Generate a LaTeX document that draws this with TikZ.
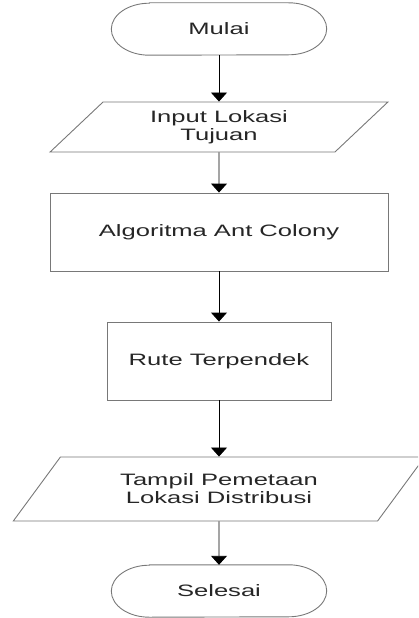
\documentclass[tikz,border=0pt]{standalone}
\usepackage{fontspec}
\setmainfont{Liberation Sans}[FakeStretch=1.55]
\usepackage{tikz}
\usetikzlibrary{arrows.meta,shapes.geometric}
\definecolor{edgegray}{RGB}{120,120,120}

\begin{document}
\begin{tikzpicture}[x=1pt, y=-1pt, font=\fontsize{16.5}{18}\selectfont,
  box node/.style={rectangle, draw=edgegray, line width=0.9pt, align=center, text=black!85},
  io node/.style={trapezium, trapezium left angle=50.5, trapezium right angle=129.5, trapezium stretches=true, draw=edgegray, line width=0.9pt, align=center, text=black!85},
  end node/.style={rectangle, minimum width=215pt, minimum height=52pt, align=center, text=black!85},
  end line/.style={draw=edgegray, line width=0.9pt},
  arrow/.style={-{Triangle[width=16pt,length=9pt]}, line width=0.9pt, black}]
\useasboundingbox (0,0) rectangle (418,618);
\clip (0,0) rectangle (418,618);
\node[end node] (mulai) at (219,29) {Mulai};
\node[io node, minimum width=338pt, minimum height=50pt] (input) at (219,127) {Input Lokasi\\Tujuan};
\node[box node, minimum width=338pt, minimum height=78pt] (algo) at (219,232) {Algoritma Ant Colony};
\node[box node, minimum width=224pt, minimum height=78pt] (rute) at (219,361) {Rute Terpendek};
\node[io node, minimum width=412pt, minimum height=64pt] (tampil) at (219,489) {Tampil Pemetaan\\Lokasi Distribusi};
\node[end node] (selesai) at (219,591) {Selesai};
% rounded ends of the terminators
\draw[end line] ([xshift=38pt]mulai.north west) -- ([xshift=-38pt]mulai.north east)
  arc[start angle=90, end angle=-90, x radius=38pt, y radius=26pt]
  -- ([xshift=38pt]mulai.south west)
  arc[start angle=270, end angle=90, x radius=38pt, y radius=26pt] -- cycle;
\draw[end line] ([xshift=38pt]selesai.north west) -- ([xshift=-38pt]selesai.north east)
  arc[start angle=90, end angle=-90, x radius=38pt, y radius=26pt]
  -- ([xshift=38pt]selesai.south west)
  arc[start angle=270, end angle=90, x radius=38pt, y radius=26pt] -- cycle;
\path[arrow]
(mulai) edge (input)
(input) edge (algo)
(algo) edge (rute)
(rute) edge (tampil)
(tampil) edge (selesai);
\end{tikzpicture}
\end{document}
